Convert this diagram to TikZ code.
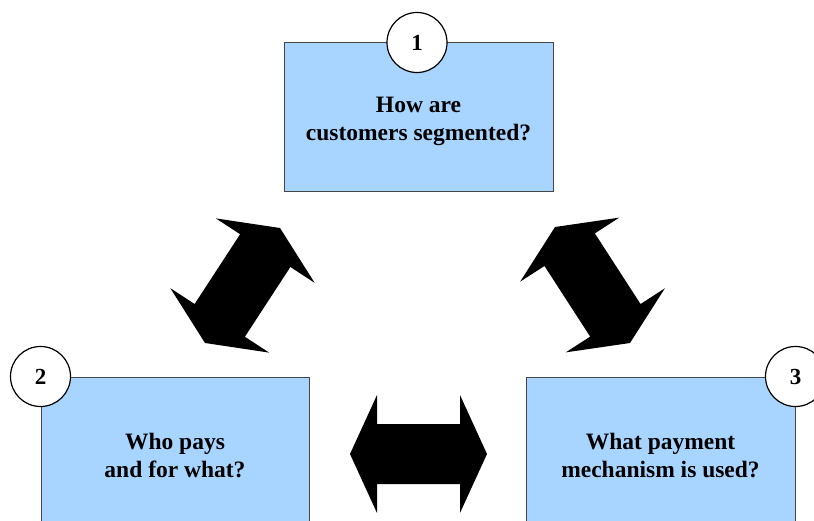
\documentclass[tikz,border=0pt]{standalone}
\usepackage{fontspec}
\setmainfont{Liberation Serif}
\usetikzlibrary{calc}
\definecolor{boxblue}{RGB}{168,213,255}
\definecolor{boxline}{RGB}{70,70,70}
\tikzset{
  qbox/.style={rectangle, draw=boxline, line width=1pt, fill=boxblue, inner sep=0pt,
    minimum width=269pt, minimum height=149pt},
  qtext/.style={align=center, inner sep=0pt,
    font=\fontsize{23.5}{28}\selectfont\bfseries},
  numcirc/.style={circle, draw=black, line width=1.2pt, fill=white, minimum size=60pt,
    inner sep=0pt, font=\fontsize{23}{28}\selectfont\bfseries},
  blockarrow/.style={fill=black, draw=none}
}
\newcommand{\blockdbl}[2]{%
  \path ($(#1)!27pt!(#2)$) coordinate (#1h) ($(#2)!27pt!(#1)$) coordinate (#2h);
  \fill[blockarrow] (#1) -- ($(#1h)!59pt!90:(#2)$) -- ($(#1h)!30pt!90:(#2)$)
    -- ($(#2h)!30pt!-90:(#1)$) -- ($(#2h)!59pt!-90:(#1)$) -- (#2)
    -- ($(#2h)!59pt!90:(#1)$) -- ($(#2h)!30pt!90:(#1)$)
    -- ($(#1h)!30pt!-90:(#2)$) -- ($(#1h)!59pt!-90:(#2)$) -- cycle;}
\begin{document}
\begin{tikzpicture}[x=1pt,y=-1pt]
\useasboundingbox (0,0) rectangle (814,521);
\clip (0,0) rectangle (814,521);
% boxes
\node[qbox] (b1) at (418.5,117.5) {};
\node[qbox, minimum width=268pt] (b2) at (175,451.5) {};
\node[qbox] (b3) at (660.5,451.5) {};
% box texts
\node[qtext] (t1) at ($(b1.center)+(0,4)$) {How are\\customers segmented?};
\node[qtext] (t2) at ($(b2.center)+(0,4)$) {Who pays\\and for what?};
\node[qtext] (t3) at ($(b3.center)+(0,4)$) {What payment\\mechanism is used?};
% number circles
\node[numcirc] (c1) at ($(b1.north)+(-1.5,0)$) {1};
\node[numcirc] (c2) at (b2.north west) {2};
\node[numcirc] (c3) at (b3.north east) {3};
% arrow end points
\coordinate (la) at (205,343);
\coordinate (lb) at (280,228);
\coordinate (ra) at (555,227);
\coordinate (rb) at (630,343);
\coordinate (ha) at (350,454);
\coordinate (hb) at (487,454);
\blockdbl{la}{lb}
\blockdbl{ra}{rb}
\blockdbl{ha}{hb}
\end{tikzpicture}
\end{document}
